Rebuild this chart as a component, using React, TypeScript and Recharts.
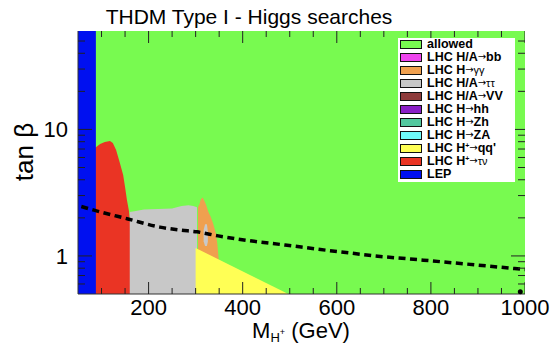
import React from 'react';
import { ComposedChart, Area, Line, Scatter, XAxis, YAxis, Legend, ReferenceDot } from 'recharts';

const W = 555;
const H = 346;
const FONT = '"Liberation Sans", Arial, Helvetica, sans-serif';
const ARROW_FONT = '"DejaVu Sans", sans-serif';

// axes
const xDomain: [number, number] = [50, 1000];
const yDomain: [number, number] = [0.5, 60];
const xMajor = [200, 400, 600, 800, 1000];
const xMinor = [100, 150, 250, 300, 350, 450, 500, 550, 650, 700, 750, 850, 900, 950];
const yMajor = [1, 10];
const yMinor = [0.6, 0.7, 0.8, 0.9, 2, 3, 4, 5, 6, 7, 8, 9, 20, 30, 40, 50];

// excluded / allowed regions (M_H+ in GeV, tan beta upper edge)
const allowedMass = [50, 1000];
const allowedTop = [60, 60];
const lepMass = [50, 88];
const lepTop = [60, 60];
const tauNuMass = [82, 86, 97, 107, 118, 124, 131, 139, 146, 150, 154, 158, 163];
const tauNuTop = [5.73, 7.13, 7.67, 7.95, 8.1, 7.82, 6.87, 5.43, 4.36, 3.51, 2.77, 2.3, 1.6];
const tauTauMass = [160, 170, 190, 220, 250, 270, 285, 295, 303];
const tauTauTop = [2.22, 2.26, 2.33, 2.35, 2.37, 2.48, 2.52, 2.48, 2.43];
const tauTauPatchMass = [317, 320, 324, 326];
const tauTauPatchLow = [1.3, 1.2, 1.2, 1.3];
const tauTauPatchTop = [1.6, 1.78, 1.78, 1.55];
const gagaMass = [305, 308, 311, 315, 318, 322, 327, 332, 337, 343, 346, 349];
const gagaTop = [2.43, 2.55, 2.8, 2.9, 2.75, 2.55, 2.23, 2.04, 1.81, 1.51, 1.26, 0.95];
const qqMass = [300, 497];
const qqTop = [1.155, 0.5];
// theory boundary (dashed)
const boundMass = [57, 82, 156, 224, 267, 303, 348, 420, 490, 560, 632, 681, 750, 850, 1000];
const boundTb = [2.46, 2.31, 1.96, 1.69, 1.6, 1.55, 1.44, 1.31, 1.22, 1.13, 1.05, 1.0, 0.95, 0.88, 0.78];
const markMass = [990];
const markTb = [0.52];

// legend
const legendColors = ['#78FA50', '#EE44EE', '#EFA04F', '#C8C8C8', '#8E3B3B', '#8A1FC6', '#52C79E', '#6FFBFB', '#FFFF55', '#EA3424', '#0010F0'];
const legendPre = ['allowed', 'LHC H/A', 'LHC H', 'LHC H/A', 'LHC H/A', 'LHC H', 'LHC H', 'LHC H', 'LHC H', 'LHC H', 'LEP'];
const legendSup = ['', '', '', '', '', '', '', '', '+', '+', ''];
const legendArrow = ['', '→', '→', '→', '→', '→', '→', '→', '→', '→', ''];
const legendPost = ['', 'bb', 'γγ', 'ττ', 'VV', 'hh', 'Zh', 'ZA', "qq'", 'τν', ''];
const legendPostSmall = [false, false, true, true, false, false, false, false, false, true, false];

const C = {
  allowed: legendColors[0],
  gaga: legendColors[2],
  tautau: legendColors[3],
  qq: legendColors[8],
  taunu: legendColors[9],
  lep: legendColors[10],
};

const rangeData = (xs: number[], tops: number[], lows?: number[]) =>
  xs.map((x, i) => ({ x, range: [lows ? lows[i] : yDomain[0], tops[i]] }));

const allowedData = rangeData(allowedMass, allowedTop);
const lepData = rangeData(lepMass, lepTop);
const tauNuData = rangeData(tauNuMass, tauNuTop);
const tauTauData = rangeData(tauTauMass, tauTauTop);
const tauTauPatchData = rangeData(tauTauPatchMass, tauTauPatchTop, tauTauPatchLow);
const gagaData = rangeData(gagaMass, gagaTop);
const qqData = rangeData(qqMass, qqTop);
const boundData = boundMass.map((x, i) => ({ x, tb: boundTb[i] }));
const frameData = allowedMass.map((x, i) => ({ x, tb: allowedTop[i] }));

// inner tick marks (ROOT style), placed on the frame through the scales
const xTickVals = [...xMinor, ...xMajor];
const yTickVals = [...yMinor, ...yMajor];
const bottomTicks = xTickVals.map((x) => ({ x, tb: yDomain[0], v: x }));
const topTicks = xTickVals.map((x) => ({ x, tb: yDomain[1], v: x }));
const leftTicks = yTickVals.map((t) => ({ x: xDomain[0], tb: t, v: t }));
const rightTicks = yTickVals.map((t) => ({ x: xDomain[1], tb: t, v: t }));

const TICK = '#222';

const tickShape = (side: 'b' | 't' | 'l' | 'r') => (p: any) => {
  const { cx, cy, payload } = p;
  if (cx == null || cy == null) return <g />;
  const v = payload.v;
  if (side === 'b' || side === 't') {
    const len = xMajor.includes(v) ? 12 : 6;
    const d = side === 'b' ? -len : len;
    return <line x1={cx} x2={cx} y1={cy} y2={cy + d} stroke={TICK} strokeWidth={1} />;
  }
  const len = yMajor.includes(v) ? 14 : 7;
  const d = side === 'l' ? len : -len;
  return <line x1={cx} x2={cx + d} y1={cy} y2={cy} stroke={TICK} strokeWidth={1} />;
};

const BottomLabel = (p: any) => {
  const { x, y, payload } = p;
  if (!xMajor.includes(payload.value)) return <g />;
  return (
    <text x={x} y={y + 21} textAnchor="middle" fontSize={22} fontFamily={FONT} fill="#000">
      {payload.value}
    </text>
  );
};
const LeftLabel = (p: any) => {
  const { x, y, payload } = p;
  if (!yMajor.includes(payload.value)) return <g />;
  return (
    <text x={x - 10} y={y + 8} textAnchor="end" fontSize={22} fontFamily={FONT} fill="#000">
      {payload.value}
    </text>
  );
};

const renderLegend = () => (
  <div style={{ background: '#fff', width: 117, height: 144, boxSizing: 'border-box', fontFamily: FONT, color: '#000' }}>
    {legendPre.map((pre, i) => (
      <div key={i} style={{ display: 'flex', alignItems: 'center', height: 13 }}>
        <div
          style={{
            width: 22,
            height: 9,
            boxSizing: 'border-box',
            border: '1.5px solid #111',
            background: legendColors[i],
            marginLeft: 2,
            marginRight: 5,
            flex: 'none',
          }}
        />
        <span style={{ fontWeight: 'bold', fontSize: 12.5, lineHeight: '13px', whiteSpace: 'nowrap' }}>
          {pre}
          {legendSup[i] && <sup style={{ fontSize: 7, verticalAlign: 'top', lineHeight: '8px' }}>{legendSup[i]}</sup>}
          {legendArrow[i] && (
            <span style={{ fontWeight: 'normal', fontSize: 10, fontFamily: ARROW_FONT, position: 'relative', top: -1 }}>
              {legendArrow[i]}
            </span>
          )}
          {legendPost[i] && (
            <span style={legendPostSmall[i] ? { fontWeight: 'normal', fontSize: 11 } : {}}>{legendPost[i]}</span>
          )}
        </span>
      </div>
    ))}
  </div>
);

const areaProps = {
  xAxisId: 'b',
  yAxisId: 'l',
  dataKey: 'range',
  type: 'linear' as const,
  stroke: 'none',
  fillOpacity: 1,
  isAnimationActive: false,
  dot: false,
  activeDot: false,
  legendType: 'none' as const,
};

const tickScatterProps = {
  xAxisId: 'b',
  yAxisId: 'l',
  dataKey: 'tb',
  isAnimationActive: false,
  legendType: 'none' as const,
};

export default function App() {
  return (
    <div style={{ position: 'absolute', left: 0, top: 0, width: W, height: H, background: '#fff' }}>
      <ComposedChart width={W} height={H} margin={{ top: 31, right: 30, bottom: 0, left: 0 }}>
        <Area {...areaProps} data={allowedData} fill={C.allowed} />
        <Area {...areaProps} data={tauNuData} fill={C.taunu} />
        <Area {...areaProps} data={tauTauData} fill={C.tautau} />
        <Area {...areaProps} data={gagaData} fill={C.gaga} />
        <Area {...areaProps} data={tauTauPatchData} fill={C.tautau} />
        <Area {...areaProps} data={qqData} fill={C.qq} />
        <Area {...areaProps} data={lepData} fill={C.lep} />
        <Line
          xAxisId="b"
          yAxisId="l"
          data={boundData}
          dataKey="tb"
          type="monotone"
          stroke="#000"
          strokeWidth={3.5}
          strokeDasharray="7 4.5"
          dot={false}
          activeDot={false}
          isAnimationActive={false}
          legendType="none"
        />
        <Line
          xAxisId="t"
          yAxisId="r"
          data={frameData}
          dataKey="tb"
          stroke="none"
          dot={false}
          activeDot={false}
          isAnimationActive={false}
          legendType="none"
        />
        <Scatter {...tickScatterProps} data={bottomTicks} shape={tickShape('b')} />
        <Scatter {...tickScatterProps} data={topTicks} shape={tickShape('t')} />
        <Scatter {...tickScatterProps} data={leftTicks} shape={tickShape('l')} />
        <Scatter {...tickScatterProps} data={rightTicks} shape={tickShape('r')} />
        <ReferenceDot xAxisId="b" yAxisId="l" x={markMass[0]} y={markTb[0]} r={2.5} fill="#000" stroke="none" />
        <XAxis
          xAxisId="t"
          orientation="top"
          type="number"
          dataKey="x"
          domain={xDomain}
          allowDataOverflow
          ticks={xMajor}
          height={0}
          tickLine={false}
          tick={false}
          axisLine={{ stroke: '#333' }}
        />
        <YAxis
          yAxisId="r"
          orientation="right"
          type="number"
          scale="log"
          domain={yDomain}
          allowDataOverflow
          ticks={yMajor}
          width={0}
          tickLine={false}
          tick={false}
          axisLine={{ stroke: '#333' }}
        />
        <XAxis
          xAxisId="b"
          orientation="bottom"
          type="number"
          dataKey="x"
          domain={xDomain}
          allowDataOverflow
          ticks={xMajor}
          interval={0}
          height={52}
          tickSize={0}
          tickMargin={0}
          tickLine={false}
          axisLine={{ stroke: '#333' }}
          tick={(p: any) => <BottomLabel {...p} />}
        />
        <YAxis
          yAxisId="l"
          orientation="left"
          type="number"
          scale="log"
          domain={yDomain}
          allowDataOverflow
          ticks={yMajor}
          interval={0}
          width={78}
          tickSize={0}
          tickMargin={0}
          tickLine={false}
          axisLine={{ stroke: '#333' }}
          tick={(p: any) => <LeftLabel {...p} />}
        />
        <Legend
          layout="horizontal"
          verticalAlign="middle"
          align="center"
          content={renderLegend}
          wrapperStyle={{ position: 'absolute', left: 398, top: 38, width: 117, height: 144, margin: 0, padding: 0 }}
        />
      </ComposedChart>
      <svg width={W} height={H} style={{ position: 'absolute', left: 0, top: 0, pointerEvents: 'none' }}>
        <text x={249} y={24} textAnchor="middle" fontSize={21} fontFamily={FONT} fill="#000">
          THDM Type I - Higgs searches
        </text>
        <text x={301} y={338} textAnchor="middle" fontSize={22} fontFamily={FONT} fill="#000">
          M
          <tspan fontSize={13} dy={4}>H</tspan>
          <tspan fontSize={9} dy={-7}>+</tspan>
          <tspan fontSize={22} dy={3}> (GeV)</tspan>
        </text>
        <text transform="translate(33,152) rotate(-90)" textAnchor="middle" fontSize={26} fontFamily={FONT} fill="#000">
          tan β
        </text>
      </svg>
    </div>
  );
}
